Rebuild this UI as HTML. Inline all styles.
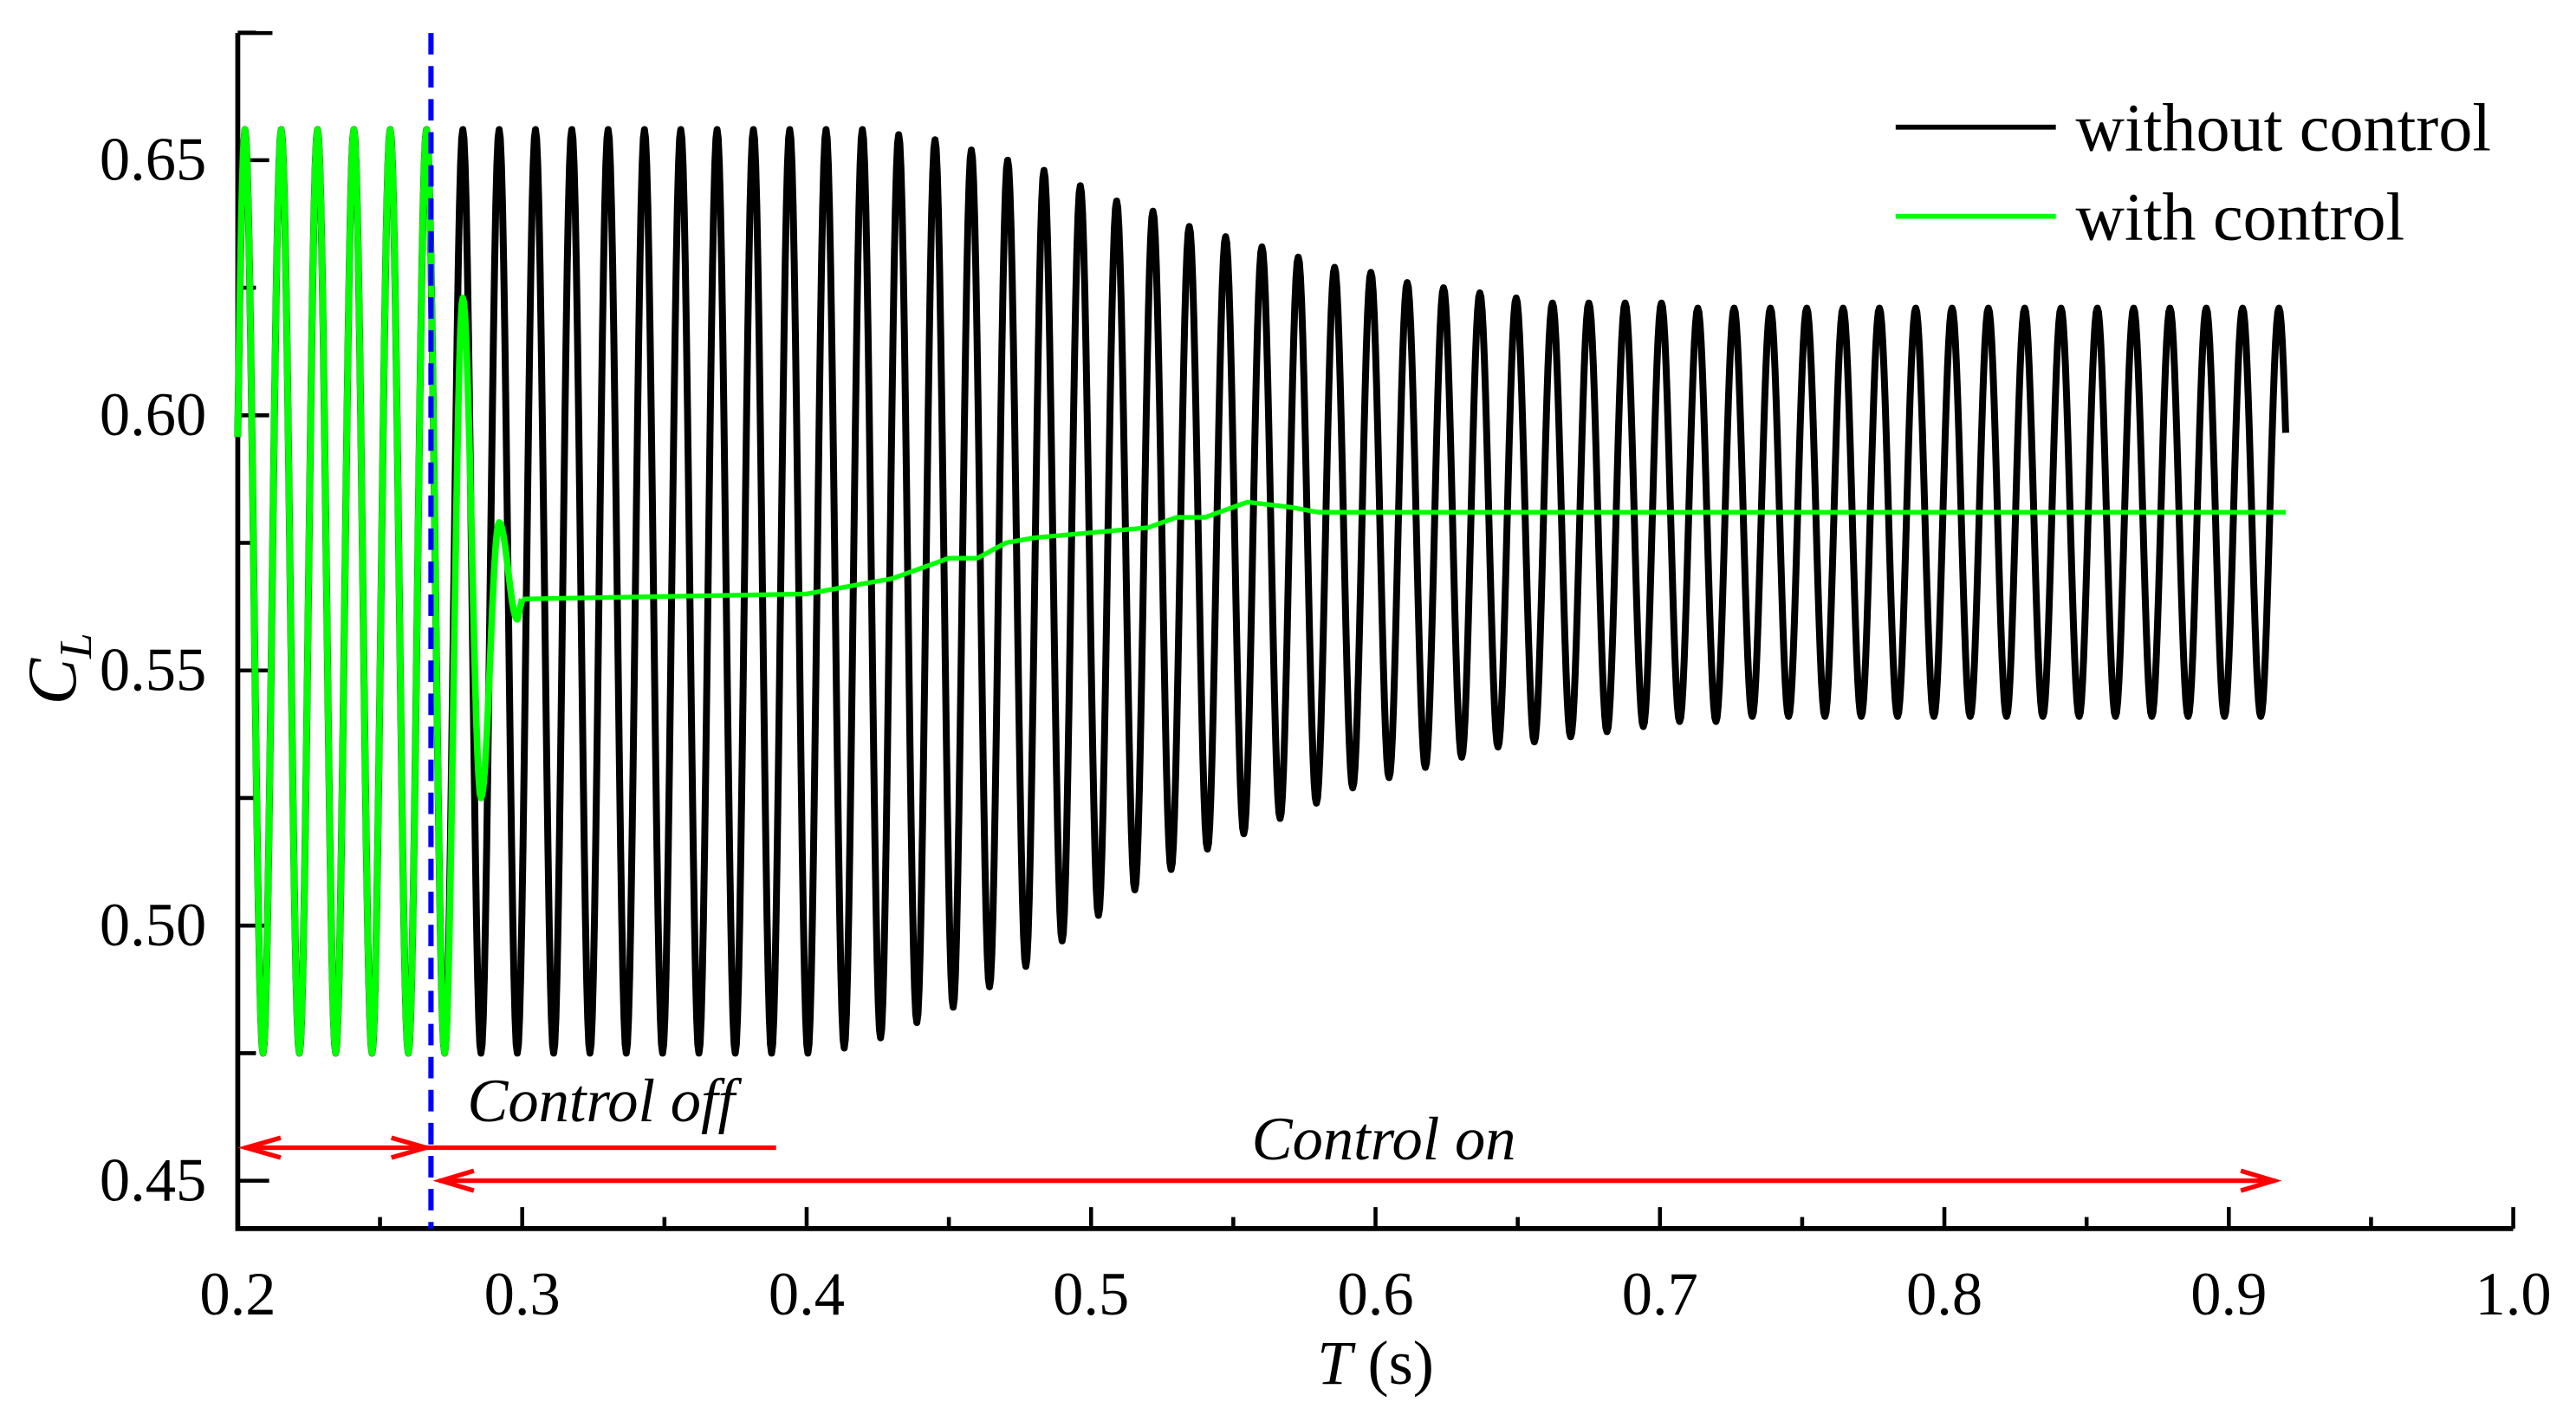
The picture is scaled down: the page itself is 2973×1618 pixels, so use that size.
<!DOCTYPE html>
<html><head><meta charset="utf-8"><style>
html,body{margin:0;padding:0;background:#fff;}
svg{display:block;}
text{font-family:"Liberation Serif",serif;}
</style></head><body>
<svg id="chart" width="2973" height="1618" viewBox="0 0 1560 849" xmlns="http://www.w3.org/2000/svg">
<g id="axes"></g>
<g id="series"></g>
<g id="annot"></g>
</svg>
<script>
// ---- data ----
const xTicks = [0.2,0.3,0.4,0.5,0.6,0.7,0.8,0.9,1.0];
const xTickLabels = ["0.2","0.3","0.4","0.5","0.6","0.7","0.8","0.9","1.0"];
const yTicks = [0.45,0.50,0.55,0.60,0.65];
const yTickLabels = ["0.45","0.50","0.55","0.60","0.65"];
const period = 0.01277;
const firstPeak = 0.2025;
// black (without control): peak values for cycles k=0..56, trough values for k+0.5
const blackPeaks = [0.656,0.656,0.656,0.656,0.656,0.656,0.656,0.656,0.656,0.656,0.656,0.656,0.656,0.656,0.656,0.656,0.656,0.656,0.655,0.654,0.652,0.650,0.648,0.645,0.642,0.640,0.637,0.635,0.633,0.631,0.629,0.628,0.626,0.625,0.624,0.623,0.622,0.622,0.622,0.622,0.621,0.621,0.621,0.621,0.621,0.621,0.621,0.621,0.621,0.621,0.621,0.621,0.621,0.621,0.621,0.621,0.621];
const blackTroughs = [0.475,0.475,0.475,0.475,0.475,0.475,0.475,0.475,0.475,0.475,0.475,0.475,0.475,0.475,0.475,0.475,0.476,0.478,0.481,0.484,0.488,0.492,0.497,0.502,0.507,0.511,0.515,0.518,0.521,0.524,0.527,0.529,0.531,0.533,0.535,0.536,0.537,0.538,0.539,0.540,0.540,0.541,0.541,0.541,0.541,0.541,0.541,0.541,0.541,0.541,0.541,0.541,0.541,0.541,0.541,0.541,0.541];
const blackEnd = 0.92;
// green (with control)
const greenPeaks = [0.656,0.656,0.656,0.656,0.656,0.656,0.623,0.579];
const greenTroughs = [0.475,0.475,0.475,0.475,0.475,0.475,0.525,0.560];
const greenFlatT = [0.300,0.40,0.41,0.43,0.44,0.45,0.46,0.47,0.48,0.50,0.52,0.53,0.54,0.555,0.57,0.58,0.92];
const greenFlatV = [0.564,0.565,0.566,0.568,0.570,0.572,0.572,0.575,0.576,0.577,0.578,0.580,0.580,0.583,0.582,0.581,0.581];

// ---- axes functions ----
const X = t => 144 + (t-0.2)/0.8*1378;
const Y = v => 97 + (0.65-v)/0.05*154.5;
const NS = "http://www.w3.org/2000/svg";
function mk(tag, attrs, parent){const e=document.createElementNS(NS,tag);for(const k in attrs)e.setAttribute(k,attrs[k]);parent.appendChild(e);return e;}
const axes=document.getElementById('axes'), series=document.getElementById('series');

function oscPath(peaks, troughs, tEnd){
  const ext=[];
  for(let k=0;k<peaks.length;k++){ext.push([firstPeak+k*period,peaks[k]]); if(k<troughs.length) ext.push([firstPeak+(k+0.5)*period,troughs[k]]);}
  const pts=[];
  // lead-in from t=0.2 (just before first peak)
  const [ta0,va0]=ext[0],[tb0,vb0]=ext[1];const hp=tb0-ta0;
  for(let j=0;j<=4;j++){const t=0.2+(ta0-0.2)*j/4;const f=(t-(ta0-hp))/hp;pts.push([t,vb0+(va0-vb0)*(1-Math.cos(Math.PI*f))/2]);}
  for(let i=0;i<ext.length-1;i++){
    const [ta,va]=ext[i],[tb,vb]=ext[i+1];
    const n=16;
    for(let j=1;j<=n;j++){
      const f=j/n; let t=ta+(tb-ta)*f;
      if(t>tEnd){const ff=(tEnd-ta)/(tb-ta);pts.push([tEnd,va+(vb-va)*(1-Math.cos(Math.PI*ff))/2]);return pts;}
      pts.push([t,va+(vb-va)*(1-Math.cos(Math.PI*f))/2]);
    }
  }
  return pts;
}
function toD(pts){return pts.map((p,i)=>(i?'L':'M')+X(p[0]).toFixed(2)+' '+Y(p[1]).toFixed(2)).join(' ');}

const bPts=oscPath(blackPeaks,blackTroughs,blackEnd);
const blackLine=mk('path',{d:toD(bPts),fill:'none',stroke:'#000','stroke-width':4.2,'stroke-linejoin':'round'},series);



const gPts=oscPath(greenPeaks,greenTroughs,greenFlatT[0]);
const gOsc=mk('path',{d:toD(gPts.concat([[greenFlatT[0],greenFlatV[0]]])),fill:'none',stroke:'#00ff00','stroke-width':4,'stroke-linejoin':'round'},series);


const gFlat=mk('path',{d:toD(greenFlatT.map((t,i)=>[t,greenFlatV[i]])),fill:'none',stroke:'#00ff00','stroke-width':2.8,'stroke-linejoin':'round'},series);



const ax=mk('path',{d:'M144 20 V744 H1522',fill:'none',stroke:'#000','stroke-width':3},axes);


mk('line',{x1:144,y1:20,x2:165,y2:20,stroke:'#000','stroke-width':2.4},axes);
xTicks.forEach((t,i)=>{
  mk('line',{x1:X(t),y1:744,x2:X(t),y2:731,stroke:'#000','stroke-width':2.4},axes);
  if(i<xTicks.length-1) mk('line',{x1:X(t+0.05),y1:744,x2:X(t+0.05),y2:737,stroke:'#000','stroke-width':2.4},axes);
  const tx=mk('text',{x:X(t),y:796,'font-size':37,'text-anchor':'middle'},axes);
  tx.textContent=xTickLabels[i];
  
  
});
yTicks.forEach((v,i)=>{
  mk('line',{x1:144,y1:Y(v),x2:163,y2:Y(v),stroke:'#000','stroke-width':2.4},axes);
  mk('line',{x1:144,y1:Y(v+0.025),x2:155,y2:Y(v+0.025),stroke:'#000','stroke-width':2.4},axes);
  const tx=mk('text',{x:125,y:Y(v)+12,'font-size':37,'text-anchor':'end'},axes);
  tx.textContent=yTickLabels[i];
  
  
});
</script>
<svg style="position:absolute;left:0;top:0" width="2973" height="1618" viewBox="0 0 1560 849" xmlns="http://www.w3.org/2000/svg">
<line x1="261" y1="20" x2="261" y2="744" stroke="#0000ff" stroke-width="3.2" stroke-dasharray="13,7"/>
<g>
<line x1="1148" y1="77" x2="1245" y2="77" stroke="#000" stroke-width="3"/>
<text x="1257" y="91" font-size="41" font-family="Liberation Serif, serif">without control</text>
<line x1="1148" y1="131" x2="1245" y2="131" stroke="#00ff00" stroke-width="3"/>
<text x="1257" y="145" font-size="41" font-family="Liberation Serif, serif">with control</text>
</g>
<g stroke="#ff0000" stroke-width="2.8" fill="none">
<line x1="148" y1="695" x2="470" y2="695"/>
<path d="M170 689 L149 695 L170 701"/>
<path d="M237 689 L258 695 L237 701"/>
</g>
<g stroke="#ff0000" stroke-width="2.8" fill="none">
<line x1="266" y1="715" x2="1378" y2="715"/>
<path d="M287 709 L267 715 L287 721"/>
<path d="M1357 709 L1377 715 L1357 721"/>
</g>
<text x="283" y="679" font-size="37" font-style="italic" font-family="Liberation Serif, serif">Control off</text>
<text x="838" y="702" font-size="37" font-style="italic" text-anchor="middle" font-family="Liberation Serif, serif">Control on</text>
<text x="833" y="838" font-size="38" text-anchor="middle" font-family="Liberation Serif, serif"><tspan font-style="italic">T</tspan> (s)</text>
<text transform="translate(46,405) rotate(-90)" font-size="42" text-anchor="middle" font-family="Liberation Serif, serif"><tspan font-style="italic">C</tspan><tspan font-style="italic" font-size="28" dy="9">L</tspan></text>
</svg>
</body></html>
